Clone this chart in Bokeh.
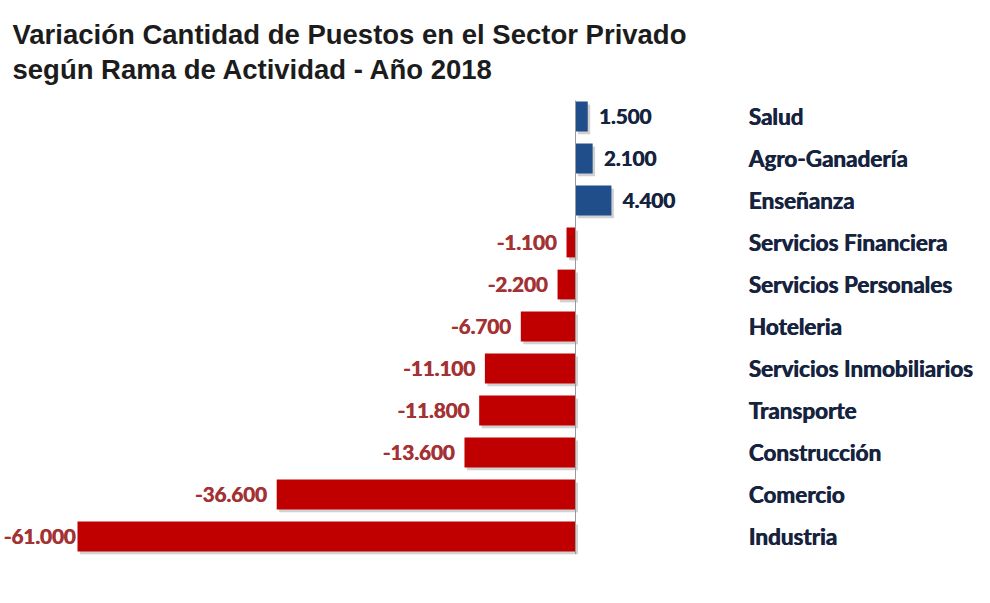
from bokeh.plotting import figure
from bokeh.models import ColumnDataSource, Range1d, Label
from bokeh.transform import dodge
from bokeh.core.properties import value
from bokeh.embed import file_html
from bokeh.resources import INLINE

# Data (top to bottom as shown)
categories = ["Salud", "Agro-Ganadería", "Enseñanza", "Servicios Financiera",
              "Servicios Personales", "Hoteleria", "Servicios Inmobiliarios",
              "Transporte", "Construcción", "Comercio", "Industria"]
values = [1500, 2100, 4400, -1100, -2200, -6700, -11100, -11800, -13600, -36600, -61000]

POS_COLOR = "#1F4E8A"
NEG_COLOR = "#C00000"
POS_TEXT = "#16233F"
NEG_TEXT = "#A33234"
CAT_TEXT = "#16233F"

n = len(categories)
ys = [n - 1 - i for i in range(n)]
fmt = [f"{v:,}".replace(",", ".") for v in values]
colors = [POS_COLOR if v >= 0 else NEG_COLOR for v in values]
tcolors = [POS_TEXT if v >= 0 else NEG_TEXT for v in values]
aligns = ["left" if v >= 0 else "right" for v in values]
offs = [11 if v >= 0 else (-2 if v == min(values) else -10) for v in values]

src = ColumnDataSource(dict(y=ys, v=values, zero=[0] * n, label=fmt, cat=categories,
                            color=colors, tcolor=tcolors, align=aligns, off=offs,
                            off2=[o + 0.7 for o in offs]))

W, H = 974, 587
p = figure(width=W, height=H, output_backend="svg", toolbar_location=None,
           x_range=Range1d(-70432, 48873), y_range=Range1d(-1.214, 12.762),
           min_border=0, outline_line_color=None)
p.axis.visible = False
p.grid.visible = False
p.background_fill_color = "white"

# soft shadows
p.hbar(y=dodge("y", -0.07, range=p.y_range), left=dodge("zero", 300, range=p.x_range),
       right=dodge("v", 300, range=p.x_range), height=0.71, source=src,
       fill_color="#9a9a9a", fill_alpha=0.45, line_color=None)
p.hbar(y="y", left="zero", right="v", height=0.71, source=src,
       fill_color="color", line_color=None)

# axis line
p.segment(x0=[0], x1=[0], y0=[min(ys) - 0.42], y1=[max(ys) + 0.38],
          line_color="#9a9a9a", line_width=1)

# value labels (drawn twice for a heavier weight)
for o in ("off", "off2"):
    p.text(x="v", y="y", text="label", source=src, x_offset=o,
           text_align="align", text_baseline="middle", text_color="tcolor",
           text_font=value("Lato"), text_font_style="bold", text_font_size="20.5px")

# category labels
for o in (173, 173.7):
    p.text(x="zero", y="y", text="cat", source=src, x_offset=o,
           text_align="left", text_baseline="middle", text_color=CAT_TEXT,
           text_font=value("Lato"), text_font_style="bold", text_font_size="22.5px")

# title
for txt, yb in [("Variación Cantidad de Puestos en el Sector Privado", H - 34),
                ("según Rama de Actividad - Año 2018", H - 69)]:
    p.add_layout(Label(x=12, y=yb, x_units="screen", y_units="screen", text=txt,
                       text_font="Liberation Sans", text_font_style="bold",
                       text_font_size="27.5px", text_color="#1c1c1c",
                       text_baseline="alphabetic"))

open("out.html", "w").write(file_html(p, INLINE))
